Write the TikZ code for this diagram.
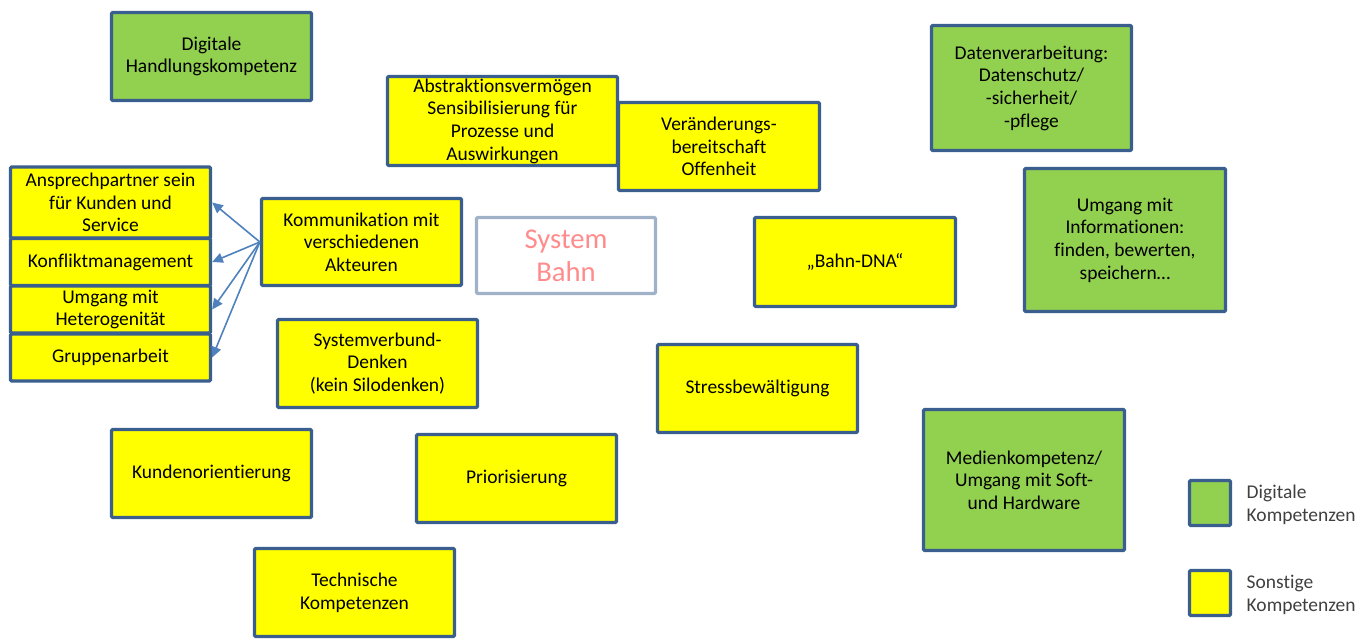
\documentclass[tikz,border=0pt]{standalone}
\usepackage{fontspec}
\setmainfont{Carlito}[Ligatures=NoCommon]
\usetikzlibrary{arrows.meta}
\definecolor{bord}{HTML}{3A5F8E}
\definecolor{ygelb}{HTML}{FFFF00}
\definecolor{ggruen}{HTML}{92D050}
\definecolor{arr}{HTML}{4F81BD}
\definecolor{sysb}{HTML}{A0B2C8}
\definecolor{syst}{HTML}{FF8C8C}
\definecolor{legt}{HTML}{404040}
\tikzset{
  kbox/.style={draw=bord, line width=2.5pt, rounded corners=1pt, align=center,
    font=\fontsize{14.6}{17}\selectfont, inner sep=1pt},
  ybox/.style={kbox, fill=ygelb},
  gbox/.style={kbox, fill=ggruen},
  sz/.style 2 args={minimum width=#1*0.75pt, minimum height=#2*0.75pt},
  conn/.style={draw=arr, line width=1.2pt, -{Triangle[length=8pt,width=7.5pt]}},
  legtext/.style={anchor=west, align=left, text=legt, font=\fontsize{14.6}{17}\selectfont}
}
\begin{document}
\begin{tikzpicture}[x=0.75pt,y=-0.75pt]
\useasboundingbox (0,0) rectangle (1372,642);
\node[gbox, sz={200}{88}] (dh) at (211.5,56.5) {Digitale\\Handlungskompetenz};
\node[ybox, sz={230}{89}] (abs) at (502.5,121) {Abstraktionsvermögen\\Sensibilisierung für\\Prozesse und\\Auswirkungen};
\node[ybox, sz={201}{88}] (ver) at (719,146.5) {Veränderungs-\\bereitschaft\\Offenheit};
\node[gbox, sz={200}{125}] (dat) at (1031.5,88) {Datenverarbeitung:\\Datenschutz/\\-sicherheit/\\-pflege};
\node[gbox, sz={201}{143}] (inf) at (1125,240) {Umgang mit\\Informationen:\\finden, bewerten,\\speichern…};
\node[ybox, sz={200}{71}] (ans) at (110.5,202.5) {Ansprechpartner sein\\für Kunden und\\Service};
\node[ybox, sz={200}{47}] (kon) at (110.5,262) {Konfliktmanagement};
\node[ybox, sz={200}{47}] (het) at (110.5,309.5) {Umgang mit\\Heterogenität};
\node[ybox, sz={200}{47}] (grp) at (110.5,357.5) {Gruppenarbeit};
\node[ybox, sz={200}{87}] (kom) at (361.5,242) {Kommunikation mit\\verschiedenen\\Akteuren};
\node[kbox, draw=sysb, fill=white, sz={179}{76}, text=syst, font=\fontsize{21.5}{25}\selectfont] (sys) at (566,255.5) {System\\Bahn};
\node[ybox, sz={201}{89}] (dna) at (855,262) {„Bahn-DNA“};
\node[ybox, sz={200}{88}] (svb) at (377.5,363.5) {Systemverbund-\\Denken\\(kein Silodenken)};
\node[ybox, sz={200}{88}] (str) at (757.5,388.5) {Stressbewältigung};
\node[ybox, sz={200}{88}] (kun) at (211.5,473.5) {Kundenorientierung};
\node[ybox, sz={200}{88}] (pri) at (516.5,478.5) {Priorisierung};
\node[gbox, sz={201}{141}] (med) at (1024,480) {Medienkompetenz/\\Umgang mit Soft-\\und Hardware};
\node[ybox, sz={200}{88}] (tec) at (354.5,592.5) {Technische\\Kompetenzen};
\node[gbox, sz={41}{45}] (lg) at (1210,503) {};
\node[ybox, sz={41}{45}] (ly) at (1210,593) {};
\node[legtext] (lgt) at (1242,505) {Digitale\\Kompetenzen};
\node[legtext] (lyt) at (1242,595) {Sonstige\\Kompetenzen};
\draw[conn] (kom.west) -- (ans.east);
\draw[conn] (kom.west) -- (kon.east);
\draw[conn] (kom.west) -- (het.east);
\draw[conn] (kom.west) -- (grp.east);
\end{tikzpicture}
\end{document}
